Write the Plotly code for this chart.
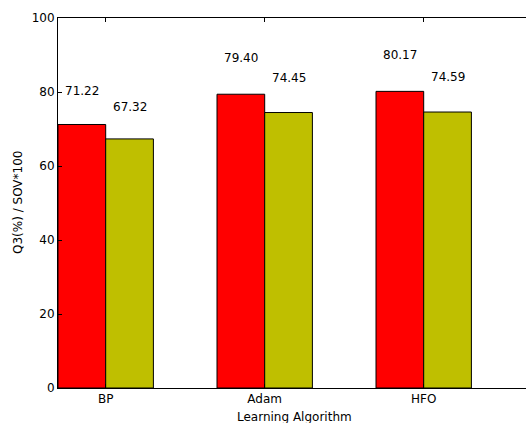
import plotly.graph_objects as go

# Learning algorithms compared and their scores
algorithms = ["BP", "Adam", "HFO"]
q3_scores = [71.22, 79.40, 80.17]
sov_scores = [67.32, 74.45, 74.59]

bar_w = 0.3
group_x = list(range(len(algorithms)))
q3_x = [g + bar_w / 2 for g in group_x]
sov_x = [g + 1.5 * bar_w for g in group_x]
tick_x = [g + bar_w for g in group_x]

font = dict(family="DejaVu Sans", size=12, color="black")

fig = go.Figure()
fig.add_trace(go.Bar(x=q3_x, y=q3_scores, width=bar_w, name="Q3",
                     marker=dict(color="#FF0000", line=dict(color="black", width=1))))
fig.add_trace(go.Bar(x=sov_x, y=sov_scores, width=bar_w, name="SOV",
                     marker=dict(color="#BFBF00", line=dict(color="black", width=1))))

annotations = []
for xs, vals in ((q3_x, q3_scores), (sov_x, sov_scores)):
    for xv, v in zip(xs, vals):
        annotations.append(dict(x=xv, y=1.1 * v, xref="x", yref="y", text=f"{v:.2f}",
                                showarrow=False, yanchor="bottom", xanchor="center",
                                font=font, yshift=-2))

# axis titles
annotations.append(dict(x=294, y=6, xref="x domain", yref="paper", text="Learning Algorithm",
                        showarrow=False, font=font))
annotations[-1].update(xref="paper", x=(294 - 58) / 468, y=-(417 - 388) / 370,
                       yref="paper", xanchor="center", yanchor="middle")
annotations.append(dict(xref="paper", yref="paper", x=-(58 - 18) / 468, y=0.5,
                        text="Q3(%) / SOV*100", textangle=-90, showarrow=False,
                        font=font, xanchor="center", yanchor="middle"))

fig.update_layout(
    width=526, height=423,
    margin=dict(l=58, r=0, t=18, b=35),
    plot_bgcolor="white", paper_bgcolor="white",
    barmode="overlay", showlegend=False,
    font=font,
    annotations=annotations,
    xaxis=dict(range=[0, 468 / 159], tickvals=tick_x, ticktext=algorithms,
               showline=True, linecolor="black", linewidth=1, mirror="ticks",
               ticks="inside", ticklen=4, tickcolor="black", showgrid=False,
               zeroline=False, tickfont=font),
    yaxis=dict(range=[0, 100], tickvals=[0, 20, 40, 60, 80, 100],
               showline=True, linecolor="black", linewidth=1, mirror=False,
               ticks="inside", ticklen=4, tickcolor="black", showgrid=False,
               zeroline=False, tickfont=font),
)

fig.write_html("out.html")
